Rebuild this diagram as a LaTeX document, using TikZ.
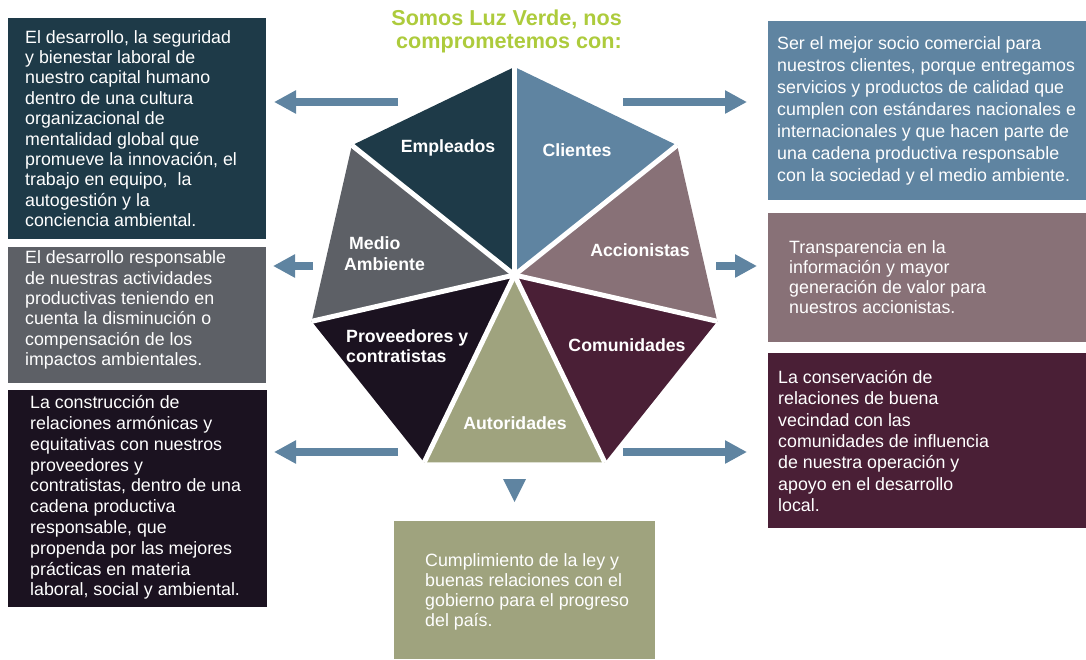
\documentclass[tikz,border=0pt]{standalone}
\usepackage{fontspec}
\setmainfont{Liberation Sans}
\usetikzlibrary{arrows.meta}
\definecolor{cEmp}{HTML}{1E3A48}
\definecolor{cCli}{HTML}{5F84A1}
\definecolor{cAcc}{HTML}{887177}
\definecolor{cCom}{HTML}{4A1F36}
\definecolor{cAut}{HTML}{9FA37E}
\definecolor{cPro}{HTML}{1B1220}
\definecolor{cMed}{HTML}{5D6066}
\definecolor{cTitle}{HTML}{ADCB3C}
\definecolor{cArrow}{HTML}{5F84A1}
\tikzset{
  panel/.style={inner sep=0pt, outer sep=0pt, anchor=north west},
  bodytext/.style={inner sep=0pt, anchor=west, align=left, text=white},
  seglabel/.style={inner sep=0pt, text=white, font=\fontsize{17.7}{20.5}\selectfont\bfseries},
  blockarrow/.style={draw=cArrow, line width=8pt, -{Triangle[width=22pt,length=22pt]}},
  gapline/.style={draw=white, line width=5pt},
}
\begin{document}
\begin{tikzpicture}[x=1pt,y=-1pt]
\useasboundingbox (0,0) rectangle (1086,659);
% heptagon vertices
\coordinate (c) at (514.5,275);
\coordinate (v0) at (514.5,67);
\coordinate (v1) at (677.1,145.3);
\coordinate (v2) at (717.3,321.3);
\coordinate (v3) at (604.8,462.4);
\coordinate (v4) at (424.2,462.4);
\coordinate (v5) at (311.7,321.3);
\coordinate (v6) at (351.9,145.3);
\fill[cCli] (c) -- (v0) -- (v1) -- cycle;
\fill[cAcc] (c) -- (v1) -- (v2) -- cycle;
\fill[cCom] (c) -- (v2) -- (v3) -- cycle;
\fill[cAut] (c) -- (v3) -- (v4) -- cycle;
\fill[cPro] (c) -- (v4) -- (v5) -- cycle;
\fill[cMed] (c) -- (v5) -- (v6) -- cycle;
\fill[cEmp] (c) -- (v6) -- (v0) -- cycle;
\foreach \k in {0,...,6} \draw[gapline] (c) -- (v\k);
% segment labels
\node[seglabel] (lEmp) at (448,148) {Empleados};
\node[seglabel] (lCli) at (577,150) {Clientes};
\node[seglabel] (lAcc) at (640,250) {Accionistas};
\node[seglabel, anchor=west, align=left, font=\fontsize{17.7}{21}\selectfont\bfseries] (lMed) at (344,253.5) {\hspace{5pt}Medio\\Ambiente};
\node[seglabel, anchor=west, align=left, font=\fontsize{17.7}{20}\selectfont\bfseries] (lPro) at (346,346) {Proveedores y\\contratistas};
\node[seglabel] (lCom) at (627,345) {Comunidades};
\node[seglabel] (lAut) at (515,423) {Autoridades};
% title
\node[inner sep=0pt, anchor=east, align=right, text=cTitle, font=\fontsize{21.6}{22.5}\selectfont\bfseries] (title) at (622,31.5) {Somos Luz Verde, nos\\comprometemos con:};
% panels
\node[panel, fill=cEmp, minimum width=258pt, minimum height=221pt] (pEmp) at (8,18) {};
\node[panel, fill=cMed, minimum width=258pt, minimum height=136pt] (pMed) at (8,247) {};
\node[panel, fill=cPro, minimum width=259pt, minimum height=217pt] (pPro) at (8,390) {};
\node[panel, fill=cCli, minimum width=318pt, minimum height=179pt] (pCli) at (768,21) {};
\node[panel, fill=cAcc, minimum width=318pt, minimum height=129pt] (pAcc) at (768,213) {};
\node[panel, fill=cCom, minimum width=318pt, minimum height=175pt] (pCom) at (768,353) {};
\node[panel, fill=cAut, minimum width=261pt, minimum height=138pt] (pAut) at (394,521) {};
% panel texts
\node[bodytext, font=\fontsize{17.8}{20.4}\selectfont] (tEmp) at (25,128.5) {El desarrollo, la seguridad\\y bienestar laboral de\\nuestro capital humano\\dentro de una cultura\\organizacional de\\mentalidad global que\\promueve la innovación, el\\trabajo en equipo, \ la\\autogestión y la\\conciencia ambiental.};
\node[bodytext, font=\fontsize{17.8}{20.4}\selectfont] (tMed) at (25,310) {El desarrollo responsable\\de nuestras actividades\\productivas teniendo en\\cuenta la disminución o\\compensación de los\\impactos ambientales.};
\node[bodytext, font=\fontsize{17.8}{20.8}\selectfont] (tPro) at (30,497.5) {La construcción de\\relaciones armónicas y\\equitativas con nuestros\\proveedores y\\contratistas, dentro de una\\cadena productiva\\responsable, que\\propenda por las mejores\\prácticas en materia\\laboral, social y ambiental.};
\node[bodytext, font=\fontsize{17.8}{22}\selectfont] (tCli) at (777,111) {Ser el mejor socio comercial para\\nuestros clientes, porque entregamos\\servicios y productos de calidad que\\cumplen con estándares nacionales e\\internacionales y que hacen parte de\\una cadena productiva responsable\\con la sociedad y el medio ambiente.};
\node[bodytext, font=\fontsize{17.8}{20.2}\selectfont] (tAcc) at (789,277) {Transparencia en la\\información y mayor\\generación de valor para\\nuestros accionistas.};
\node[bodytext, font=\fontsize{17.8}{21.3}\selectfont] (tCom) at (778,441) {La conservación de\\relaciones de buena\\vecindad con las\\comunidades de influencia\\de nuestra operación y\\apoyo en el desarrollo\\local.};
\node[bodytext, font=\fontsize{17.8}{20}\selectfont] (tAut) at (425,592) {Cumplimiento de la ley y\\buenas relaciones con el\\gobierno para el progreso\\del país.};
% arrows
\coordinate (a1s) at (398,102); \coordinate (a1e) at (274,102);
\coordinate (a2s) at (623,102); \coordinate (a2e) at (747,102);
\coordinate (a3s) at (313,266); \coordinate (a3e) at (273,266);
\coordinate (a4s) at (716,266); \coordinate (a4e) at (757,266);
\coordinate (a5s) at (398,452); \coordinate (a5e) at (274,452);
\coordinate (a6s) at (623,452); \coordinate (a6e) at (747,452);
\draw[blockarrow] (a1s) -- (a1e);
\draw[blockarrow] (a2s) -- (a2e);
\draw[blockarrow] (a3s) -- (a3e);
\draw[blockarrow] (a4s) -- (a4e);
\draw[blockarrow] (a5s) -- (a5e);
\draw[blockarrow] (a6s) -- (a6e);
\coordinate (d1) at (503,479); \coordinate (d2) at (526,479); \coordinate (d3) at (514.5,502);
\fill[cArrow] (d1) -- (d2) -- (d3) -- cycle;
\end{tikzpicture}
\end{document}
